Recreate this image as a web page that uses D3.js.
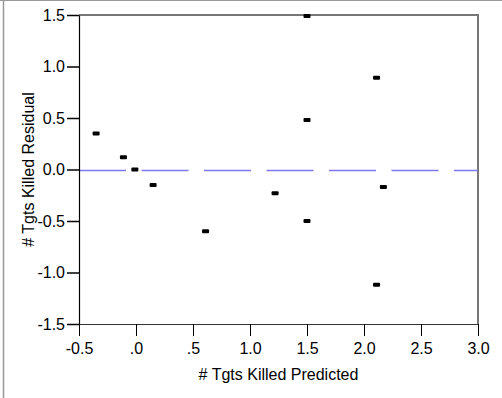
<!DOCTYPE html>
<html>
<head>
<meta charset="utf-8">
<script src="https://cdn.jsdelivr.net/npm/d3@7"></script>
<style>
  html, body { margin: 0; padding: 0; background: #fff; }
  svg { display: block; }
  text { font-family: "Liberation Sans", Arial, sans-serif; fill: #000; }
</style>
</head>
<body>
<svg id="chart" width="502" height="398"></svg>
<script>
// Data
const predicted = [-0.35, -0.11, -0.01, 0.15, 0.61, 1.22, 1.5, 1.5, 1.5, 2.11, 2.11, 2.17];
const residual  = [0.35, 0.12, 0.0, -0.15, -0.60, -0.23, 1.49, 0.48, -0.50, 0.89, -1.12, -0.17];
const xTicks = [-0.5, 0, 0.5, 1.0, 1.5, 2.0, 2.5, 3.0];
const xTickLabels = ["-0.5", ".0", ".5", "1.0", "1.5", "2.0", "2.5", "3.0"];
const yTicks = [-1.5, -1.0, -0.5, 0.0, 0.5, 1.0, 1.5];
const yTickLabels = ["-1.5", "-1.0", "-0.5", "0.0", "0.5", "1.0", "1.5"];
const refLineValue = [-0.01];
const xTitle = "# Tgts Killed Predicted";
const yTitle = "# Tgts Killed Residual";

const svg = d3.select("#chart");
const mLeft = 79, mRight = 478, mTop = 15, mBottom = 324;
const FS = 16;

const x = d3.scaleLinear().domain([-0.5, 3.0]).range([mLeft, mRight]);
const y = d3.scaleLinear().domain([-1.5, 1.5]).range([mBottom, mTop]);

// outer frame (top + left edges)
svg.append("line").attr("x1", 0).attr("x2", 502).attr("y1", 0.5).attr("y2", 0.5)
  .attr("stroke", "#999").attr("stroke-width", 1);
svg.append("line").attr("x1", 3.5).attr("x2", 3.5).attr("y1", 0).attr("y2", 398)
  .attr("stroke", "#999").attr("stroke-width", 1.5);

// top and right plot border
svg.append("path")
  .attr("d", `M${mLeft},${mTop} H${mRight} V${mBottom}`)
  .attr("fill", "none").attr("stroke", "#777").attr("stroke-width", 2);

// reference dashed line
svg.selectAll("line.ref").data(refLineValue).enter().append("line")
  .attr("class", "ref")
  .attr("x1", mLeft).attr("x2", mRight)
  .attr("y1", d => y(d)).attr("y2", d => y(d))
  .attr("stroke", "#7f77ee").attr("stroke-width", 1.5)
  .attr("stroke-dasharray", "47,15.5");

// axes
const xAxis = d3.axisBottom(x).tickValues(xTicks)
  .tickFormat((d, i) => xTickLabels[i]).tickSize(12).tickSizeOuter(0).tickPadding(7);
const gx = svg.append("g").attr("transform", `translate(0,${mBottom})`).call(xAxis);
gx.attr("font-size", FS).attr("font-family", "Liberation Sans, Arial, sans-serif");
gx.select(".domain").attr("stroke", "#333").attr("stroke-width", 1.2);
gx.selectAll(".tick line").attr("stroke", "#000");
gx.selectAll("text").style("font-size", FS + "px");

const yAxis = d3.axisLeft(y).tickValues(yTicks)
  .tickFormat((d, i) => yTickLabels[i]).tickSize(12).tickSizeOuter(0).tickPadding(2);
const gy = svg.append("g").attr("transform", `translate(${mLeft},0)`).call(yAxis);
gy.attr("font-size", FS).attr("font-family", "Liberation Sans, Arial, sans-serif");
gy.select(".domain").attr("stroke", "#000").attr("stroke-width", 1.2);
gy.selectAll(".tick line").attr("stroke", "#000").attr("stroke-width", 1.5);
gy.selectAll("text").style("font-size", FS + "px");

// points
svg.selectAll("rect.pt").data(predicted.map((p, i) => [p, residual[i]])).enter()
  .append("rect").attr("class", "pt")
  .attr("x", d => x(d[0]) - 3.5).attr("y", d => y(d[1]) - 2)
  .attr("width", 7).attr("height", 4).attr("rx", 1)
  .attr("fill", "#000");

// titles
svg.append("text").attr("x", (mLeft + mRight) / 2).attr("y", 380)
  .attr("text-anchor", "middle").style("font-size", "16px").text(xTitle);
svg.append("text").attr("transform", `translate(34,${(mTop + mBottom) / 2}) rotate(-90)`)
  .attr("text-anchor", "middle").style("font-size", "16px").text(yTitle);
</script>
</body>
</html>
